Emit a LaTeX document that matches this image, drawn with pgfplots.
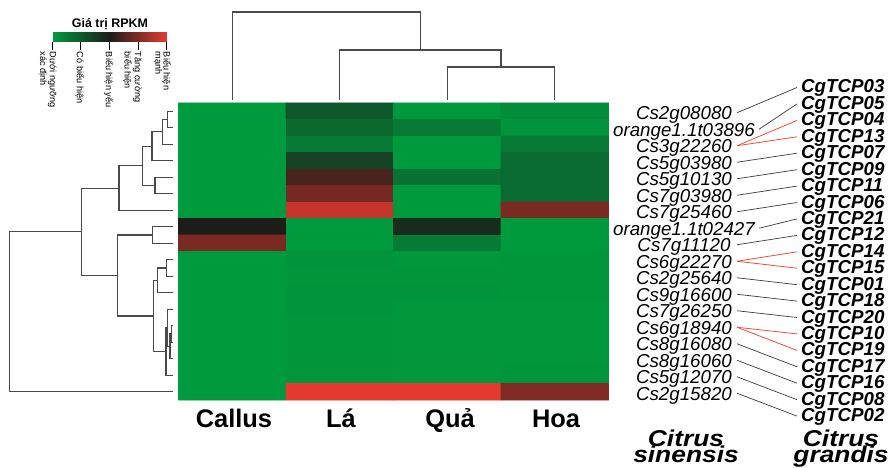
\documentclass[border=0pt]{standalone}
\usepackage{pgfplots}
\pgfplotsset{compat=1.18}
\usepackage{fontspec}
\setmainfont{Liberation Sans}
\definecolor{dend}{HTML}{4A4A4A}
\definecolor{conn}{HTML}{3A3A3A}
\definecolor{redline}{HTML}{E8503C}
\tikzset{
  leglab/.style={rotate=-90, anchor=west, align=left, inner sep=0, font=\fontsize{9.2}{8.4}\selectfont},
  cslab/.style={anchor=base, font=\fontsize{18.8}{20}\selectfont\itshape, inner sep=0},
  cglab/.style={anchor=base west, font=\fontsize{18.8}{20}\selectfont\bfseries\itshape, inner sep=0},
  collab/.style={anchor=base, font=\fontsize{25.5}{26}\selectfont\bfseries, inner sep=0},
  splab/.style={anchor=base, xscale=1.15, font=\fontsize{23}{24}\selectfont\bfseries\itshape, inner sep=0},
  dendline/.style={draw=dend, line width=1.1bp},
  cline/.style={draw=conn, line width=0.7bp},
  rline/.style={draw=redline, line width=0.8bp},
}
\begin{document}
\begin{tikzpicture}
\begin{axis}[
  width=890bp, height=468bp, scale only axis,
  xmin=0, xmax=890, ymin=0, ymax=468, y dir=reverse,
  hide axis, clip=false,
  colormap={rpkm}{rgb255(0cm)=(0,154,62); rgb255(2cm)=(28,28,24); rgb255(4cm)=(228,58,48)},
  point meta min=0, point meta max=4,
]
% ---------------- heatmap ----------------
\addplot[matrix plot*, mesh/cols=4, point meta=explicit, shader=faceted, faceted color=mapped color, line width=0.6bp] table[meta=v] {
x y v
232.25 111.25 0
339.75 111.25 1.05
447.25 111.25 0.03
554.75 111.25 0.22
232.25 127.75 0
339.75 127.75 0.8
447.25 127.75 0.5
554.75 127.75 0.1
232.25 144.25 0
339.75 144.25 0.5
447.25 144.25 0
554.75 144.25 0.5
232.25 160.75 0
339.75 160.75 1.4
447.25 160.75 0
554.75 160.75 0.75
232.25 177.25 0
339.75 177.25 2.45
447.25 177.25 0.65
554.75 177.25 0.75
232.25 193.75 0
339.75 193.75 2.9
447.25 193.75 0
554.75 193.75 0.75
232.25 210.25 0
339.75 210.25 3.7
447.25 210.25 0
554.75 210.25 2.95
232.25 226.75 2.0
339.75 226.75 0
447.25 226.75 1.75
554.75 226.75 0
232.25 243.25 2.95
339.75 243.25 0
447.25 243.25 0.5
554.75 243.25 0
232.25 259.75 0
339.75 259.75 0.1
447.25 259.75 0.05
554.75 259.75 0.08
232.25 276.25 0
339.75 276.25 0.08
447.25 276.25 0.08
554.75 276.25 0.08
232.25 292.75 0
339.75 292.75 0.1
447.25 292.75 0.1
554.75 292.75 0.08
232.25 309.25 0
339.75 309.25 0.1
447.25 309.25 0.05
554.75 309.25 0.05
232.25 325.75 0
339.75 325.75 0.08
447.25 325.75 0.05
554.75 325.75 0.05
232.25 342.25 0
339.75 342.25 0.08
447.25 342.25 0.05
554.75 342.25 0.05
232.25 358.75 0
339.75 358.75 0.08
447.25 358.75 0.05
554.75 358.75 0.05
232.25 375.25 0
339.75 375.25 0.08
447.25 375.25 0.05
554.75 375.25 0.08
232.25 391.75 0
339.75 391.75 4
447.25 391.75 4
554.75 391.75 3.0
};
% ---------------- legend colour bar ----------------
\addplot[patch, shader=interp, point meta=explicit] table[meta=c] {
x y c
52.7 32.3 0
109.3 32.3 2
109.3 41.7 2
52.7 32.3 0
109.3 41.7 2
52.7 41.7 0
109.3 32.3 2
166.7 32.3 4
166.7 41.7 4
109.3 32.3 2
166.7 41.7 4
109.3 41.7 2
};
\addplot[black, line width=0.8bp] coordinates {(52.7,41.7) (52.7,50)};
\addplot[black, line width=0.8bp] coordinates {(80.7,41.7) (80.7,50)};
\addplot[black, line width=0.8bp] coordinates {(109.3,41.7) (109.3,50)};
\addplot[black, line width=0.8bp] coordinates {(138.3,41.7) (138.3,50)};
\addplot[black, line width=0.8bp] coordinates {(166.7,41.7) (166.7,50)};
\node[anchor=base, font=\fontsize{12.5}{13}\selectfont\bfseries, inner sep=0] at (axis cs:110,28) {Giá trị RPKM};
\node[leglab] at (axis cs:47.7,51.7) {Dưới ngưỡng\\xác định};
\node[leglab] at (axis cs:80,51.7) {Có biểu hiện};
\node[leglab] at (axis cs:108.5,51.7) {Biểu hiện yếu};
\node[leglab] at (axis cs:132.5,51.7) {Tăng cường\\biểu hiện};
\node[leglab] at (axis cs:162.5,51.7) {Biểu hiện\\mạnh};
% ---------------- top dendrogram ----------------
\addplot[dendline] coordinates {(232.25,100) (232.25,12) (420.4,12) (420.4,50)};
\addplot[dendline] coordinates {(339.75,100) (339.75,50) (501,50) (501,67)};
\addplot[dendline] coordinates {(447.25,100) (447.25,67) (554.75,67) (554.75,100)};
% ---------------- left dendrogram ----------------
\addplot[dendline] coordinates {(173,111.25) (167.7,111.25) (167.7,127.75) (173,127.75)};
\addplot[dendline] coordinates {(167.7,119.5) (162.3,119.5) (162.3,144.25) (173,144.25)};
\addplot[dendline] coordinates {(162.3,131.9) (152,131.9) (152,160.75) (173,160.75)};
\addplot[dendline] coordinates {(173,177.25) (155,177.25) (155,193.75) (173,193.75)};
\addplot[dendline] coordinates {(152,146.3) (142.7,146.3) (142.7,185.5) (155,185.5)};
\addplot[dendline] coordinates {(142.7,165.9) (119,165.9) (119,210.25) (173,210.25)};
\addplot[dendline] coordinates {(173,226.75) (152.3,226.75) (152.3,243.25) (173,243.25)};
\addplot[dendline] coordinates {(173,259.75) (166.7,259.75) (166.7,276.25) (173,276.25)};
\addplot[dendline] coordinates {(166.7,268) (157.3,268) (157.3,292.75) (173,292.75)};
\addplot[dendline] coordinates {(173,325.75) (171.5,325.75) (171.5,342.25) (173,342.25)};
\addplot[dendline] coordinates {(171.5,334) (170,334) (170,358.75) (173,358.75)};
\addplot[dendline] coordinates {(173,309.25) (167.5,309.25) (167.5,346.4) (170,346.4)};
\addplot[dendline] coordinates {(167.5,327.8) (166,327.8) (166,375.25) (173,375.25)};
\addplot[dendline] coordinates {(157.3,280.4) (153.3,280.4) (153.3,351.5) (166,351.5)};
\addplot[dendline] coordinates {(152.3,235) (117.3,235) (117.3,316) (153.3,316)};
\addplot[dendline] coordinates {(119,188.1) (81.7,188.1) (81.7,275.5) (117.3,275.5)};
\addplot[dendline] coordinates {(81.7,231.8) (9.3,231.8) (9.3,391.75) (173,391.75)};
% ---------------- column labels ----------------
\node[collab] at (axis cs:234,427) {Callus};
\node[collab] at (axis cs:341,427) {Lá};
\node[collab] at (axis cs:450,427) {Quả};
\node[collab] at (axis cs:556,427) {Hoa};
% ---------------- C. sinensis labels ----------------
\node[cslab] at (axis cs:684,119.75) {Cs2g08080};
\node[cslab] at (axis cs:684,136.25) {orange1.1t03896};
\node[cslab] at (axis cs:684,152.75) {Cs3g22260};
\node[cslab] at (axis cs:684,169.25) {Cs5g03980};
\node[cslab] at (axis cs:684,185.75) {Cs5g10130};
\node[cslab] at (axis cs:684,202.25) {Cs7g03980};
\node[cslab] at (axis cs:684,218.75) {Cs7g25460};
\node[cslab] at (axis cs:684,235.25) {orange1.1t02427};
\node[cslab] at (axis cs:684,251.75) {Cs7g11120};
\node[cslab] at (axis cs:684,268.25) {Cs6g22270};
\node[cslab] at (axis cs:684,284.75) {Cs2g25640};
\node[cslab] at (axis cs:684,301.25) {Cs9g16600};
\node[cslab] at (axis cs:684,317.75) {Cs7g26250};
\node[cslab] at (axis cs:684,334.25) {Cs6g18940};
\node[cslab] at (axis cs:684,350.75) {Cs8g16080};
\node[cslab] at (axis cs:684,367.25) {Cs8g16060};
\node[cslab] at (axis cs:684,383.75) {Cs5g12070};
\node[cslab] at (axis cs:684,400.25) {Cs2g15820};
% ---------------- C. grandis labels ----------------
\node[cglab] at (axis cs:801,93) {CgTCP03};
\node[cglab] at (axis cs:801,109.4) {CgTCP05};
\node[cglab] at (axis cs:801,125.9) {CgTCP04};
\node[cglab] at (axis cs:801,142.3) {CgTCP13};
\node[cglab] at (axis cs:801,158.7) {CgTCP07};
\node[cglab] at (axis cs:801,175.2) {CgTCP09};
\node[cglab] at (axis cs:801,191.6) {CgTCP11};
\node[cglab] at (axis cs:801,208.0) {CgTCP06};
\node[cglab] at (axis cs:801,224.4) {CgTCP21};
\node[cglab] at (axis cs:801,240.9) {CgTCP12};
\node[cglab] at (axis cs:801,257.3) {CgTCP14};
\node[cglab] at (axis cs:801,273.7) {CgTCP15};
\node[cglab] at (axis cs:801,290.2) {CgTCP01};
\node[cglab] at (axis cs:801,306.6) {CgTCP18};
\node[cglab] at (axis cs:801,323.0) {CgTCP20};
\node[cglab] at (axis cs:801,339.5) {CgTCP10};
\node[cglab] at (axis cs:801,355.9) {CgTCP19};
\node[cglab] at (axis cs:801,372.3) {CgTCP17};
\node[cglab] at (axis cs:801,388.7) {CgTCP16};
\node[cglab] at (axis cs:801,405.2) {CgTCP08};
\node[cglab] at (axis cs:801,421.6) {CgTCP02};
% ---------------- connectors ----------------
\addplot[cline] coordinates {(737,112.75) (797,87.5)};
\addplot[cline] coordinates {(759,129.25) (797,103.9)};
\addplot[rline] coordinates {(737,145.75) (797,120.4)};
\addplot[rline] coordinates {(737,145.75) (797,136.8)};
\addplot[cline] coordinates {(737,162.25) (797,153.2)};
\addplot[cline] coordinates {(737,178.75) (797,169.7)};
\addplot[cline] coordinates {(737,195.25) (797,186.1)};
\addplot[cline] coordinates {(737,211.75) (797,202.5)};
\addplot[cline] coordinates {(759,228.25) (797,218.9)};
\addplot[cline] coordinates {(737,244.75) (797,235.4)};
\addplot[rline] coordinates {(737,261.25) (797,251.8)};
\addplot[rline] coordinates {(737,261.25) (797,268.2)};
\addplot[cline] coordinates {(737,277.75) (797,284.7)};
\addplot[cline] coordinates {(737,294.25) (797,301.1)};
\addplot[cline] coordinates {(737,310.75) (797,317.5)};
\addplot[rline] coordinates {(737,327.25) (797,333.9)};
\addplot[rline] coordinates {(737,327.25) (797,350.4)};
\addplot[cline] coordinates {(737,343.75) (797,366.8)};
\addplot[cline] coordinates {(737,360.25) (797,383.2)};
\addplot[cline] coordinates {(737,376.75) (797,399.7)};
\addplot[cline] coordinates {(737,393.25) (797,416.1)};
% ---------------- species labels ----------------
\node[splab] at (axis cs:686,446.7) {Citrus};
\node[splab] at (axis cs:686,462.7) {sinensis};
\node[splab] at (axis cs:841,446.7) {Citrus};
\node[splab] at (axis cs:841,462.7) {grandis};
\end{axis}
\pgfresetboundingbox
\useasboundingbox (0,0) rectangle (890bp,468bp);
\end{tikzpicture}
\end{document}
